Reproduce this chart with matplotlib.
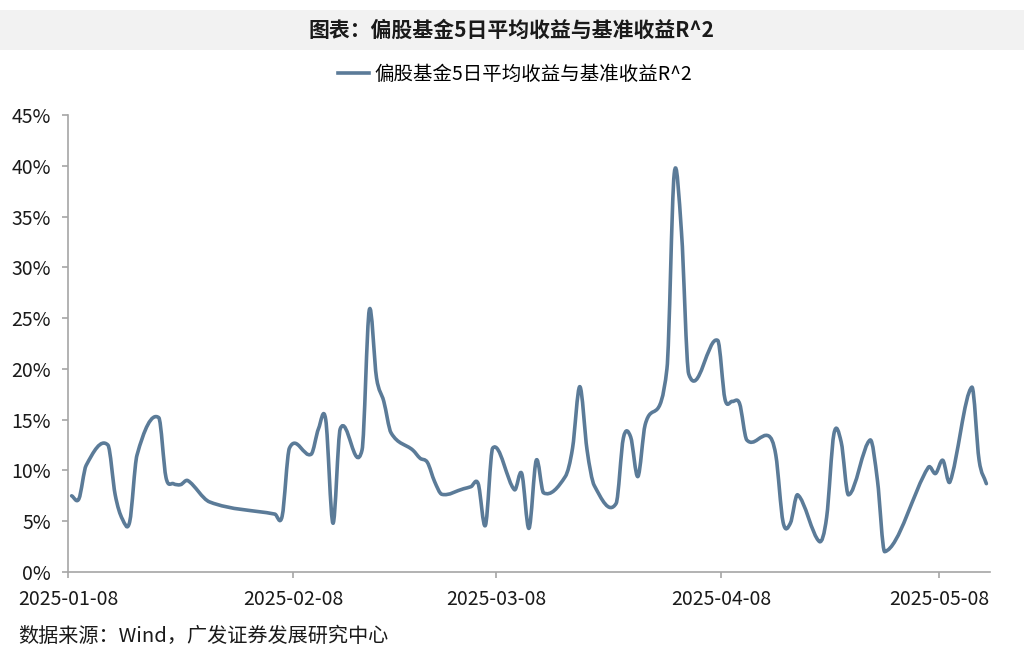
import matplotlib
matplotlib.use("Agg")
import matplotlib.pyplot as plt
import matplotlib.dates as mdates
from matplotlib.path import Path
from matplotlib.patches import PathPatch, Rectangle
from matplotlib.lines import Line2D
from matplotlib.ticker import FuncFormatter, MultipleLocator
import numpy as np
import pandas as pd

plt.rcParams['font.family'] = ['Noto Sans CJK SC', 'DejaVu Sans']

# trading days and R^2 (%)
dates = [
    "2025-01-08", "2025-01-09", "2025-01-10", "2025-01-13", "2025-01-14", "2025-01-15",
    "2025-01-16", "2025-01-17", "2025-01-20", "2025-01-21", "2025-01-22", "2025-01-23",
    "2025-01-24", "2025-01-27", "2025-02-05", "2025-02-06", "2025-02-07", "2025-02-10",
    "2025-02-11", "2025-02-12", "2025-02-13", "2025-02-14", "2025-02-17", "2025-02-18",
    "2025-02-19", "2025-02-20", "2025-02-21", "2025-02-24", "2025-02-25", "2025-02-26",
    "2025-02-27", "2025-02-28", "2025-03-03", "2025-03-04", "2025-03-05", "2025-03-06",
    "2025-03-07", "2025-03-10", "2025-03-11", "2025-03-12", "2025-03-13", "2025-03-14",
    "2025-03-17", "2025-03-18", "2025-03-19", "2025-03-20", "2025-03-21", "2025-03-24",
    "2025-03-25", "2025-03-26", "2025-03-27", "2025-03-28", "2025-03-31", "2025-04-01",
    "2025-04-02", "2025-04-03", "2025-04-07", "2025-04-08", "2025-04-09", "2025-04-10",
    "2025-04-11", "2025-04-14", "2025-04-15", "2025-04-16", "2025-04-17", "2025-04-18",
    "2025-04-21", "2025-04-22", "2025-04-23", "2025-04-24", "2025-04-25", "2025-04-28",
    "2025-04-29", "2025-04-30", "2025-05-06", "2025-05-07", "2025-05-08", "2025-05-09",
    "2025-05-12", "2025-05-13", "2025-05-14",
]
r2 = [
    7.5, 7.2, 10.5, 12.5, 7.6, 5.2,
    4.95, 11.5, 15.2, 9.3, 8.7, 8.6,
    9.0, 6.9, 5.7, 5.5, 12.2, 11.6,
    14.1, 15.0, 4.8, 14.1, 12.0, 25.8,
    19.1, 16.8, 13.7, 12.0, 11.2, 10.8,
    8.9, 7.65, 8.2, 8.4, 8.7, 4.6,
    12.2, 8.1, 9.7, 4.3, 11.0, 7.8,
    9.4, 12.2, 18.25, 12.0, 8.5, 6.75,
    13.2, 13.3, 9.4, 14.5, 20.0, 39.2,
    33.5, 19.5, 22.8, 17.0, 16.8, 16.6,
    13.0, 13.4, 11.5, 4.9, 4.8, 7.6,
    3.0, 5.4, 13.6, 12.8, 7.6, 13.0,
    9.0, 2.0, 10.3, 9.7, 11.0, 8.9,
    18.2, 11.0, 8.7,
]
series_name = "偏股基金5日平均收益与基准收益R^2"
title = "图表：偏股基金5日平均收益与基准收益R^2"
source = "数据来源：Wind，广发证券发展研究中心"
tick_dates = ["2025-01-08", "2025-02-08", "2025-03-08", "2025-04-08", "2025-05-08"]

LINE = "#5b7b98"
AXIS = "#a6a6a6"


def smooth_path(x, y):
    """Cubic Bezier through every point (like Excel's smoothed line)."""
    x = np.asarray(x, float)
    y = np.asarray(y, float)
    n = len(x)
    m = np.empty(n)
    m[1:-1] = (y[2:] - y[:-2]) / (x[2:] - x[:-2])
    m[0] = (y[1] - y[0]) / (x[1] - x[0])
    m[-1] = (y[-1] - y[-2]) / (x[-1] - x[-2])
    verts = [(x[0], y[0])]
    codes = [Path.MOVETO]
    for i in range(n - 1):
        h = x[i + 1] - x[i]
        verts += [(x[i] + h / 3, y[i] + m[i] * h / 3),
                  (x[i + 1] - h / 3, y[i + 1] - m[i + 1] * h / 3),
                  (x[i + 1], y[i + 1])]
        codes += [Path.CURVE4] * 3
    return Path(verts, codes)


fig = plt.figure(figsize=(10.24, 6.63), dpi=100)
ax = fig.add_axes([68 / 1024, 1 - 572 / 663, 922 / 1024, 457 / 663])

# points sit in the middle of each day's slot on the date axis
xs = mdates.date2num(pd.to_datetime(dates) + pd.Timedelta(hours=12))
ax.add_patch(PathPatch(smooth_path(xs, r2), fill=False, edgecolor=LINE,
                       lw=2.6, capstyle="round", joinstyle="round"))

ax.set_xlim(mdates.date2num(pd.Timestamp("2025-01-08")),
            mdates.date2num(pd.Timestamp("2025-05-15")))
ax.set_ylim(0, 45)
ax.yaxis.set_major_locator(MultipleLocator(5))
ax.yaxis.set_major_formatter(FuncFormatter(lambda v, _: f"{v:.0f}%"))
ax.set_xticks(mdates.date2num(pd.to_datetime(tick_dates)))
ax.set_xticklabels(tick_dates)

for side in ("top", "right"):
    ax.spines[side].set_visible(False)
for side in ("left", "bottom"):
    ax.spines[side].set_color(AXIS)
    ax.spines[side].set_linewidth(1.2)
ax.tick_params(axis="both", colors=AXIS, width=1.2, length=4.5,
               labelcolor="#1a1a1a", labelsize=14)
ax.tick_params(axis="y", pad=8)
ax.tick_params(axis="x", pad=8)

# title band
fig.patches.append(Rectangle((0, 1 - 50 / 663), 1, 40 / 663, transform=fig.transFigure,
                             facecolor="#f2f2f2", edgecolor="none", zorder=0))
fig.text(0.5, 1 - 30 / 663, title, ha="center", va="center",
         fontsize=15, fontweight="bold", color="#1a1a1a")

handle = Line2D([], [], color=LINE, lw=2.6)
fig.legend([handle], [series_name], loc="center", bbox_to_anchor=(0.503, 1 - 74 / 663),
           frameon=False, fontsize=14, handlelength=1.6, handletextpad=0.3)

fig.text(18 / 1024, 1 - 636 / 663, source, ha="left", va="center",
         fontsize=14.5, color="#1a1a1a")

fig.savefig("out.png", dpi=100)
plt.close(fig)
